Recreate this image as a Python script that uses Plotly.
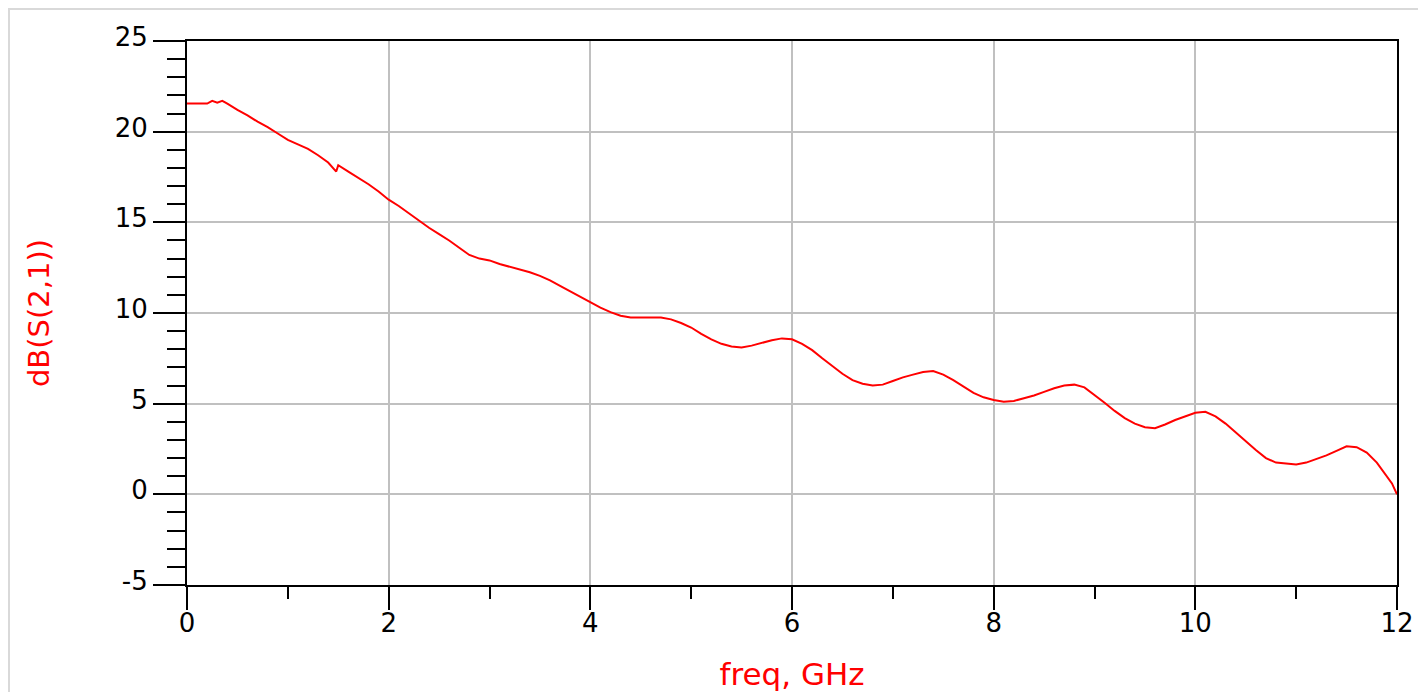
import plotly.graph_objects as go

freq_ghz = [0.0, 0.1, 0.2, 0.25, 0.3, 0.35, 0.4, 0.5, 0.6, 0.7, 0.8, 0.9,
            1.0, 1.1, 1.2, 1.3, 1.4, 1.48, 1.5, 1.6, 1.7, 1.8, 1.9,
            2.0, 2.1, 2.2, 2.3, 2.4, 2.5, 2.6, 2.7, 2.8, 2.9,
            3.0, 3.1, 3.2, 3.3, 3.4, 3.5, 3.6, 3.7, 3.8, 3.9,
            4.0, 4.1, 4.2, 4.3, 4.4, 4.5, 4.6, 4.7, 4.8, 4.9,
            5.0, 5.1, 5.2, 5.3, 5.4, 5.5, 5.6, 5.7, 5.8, 5.9,
            6.0, 6.1, 6.2, 6.3, 6.4, 6.5, 6.6, 6.7, 6.8, 6.9,
            7.0, 7.1, 7.2, 7.3, 7.4, 7.5, 7.6, 7.7, 7.8, 7.9,
            8.0, 8.1, 8.2, 8.3, 8.4, 8.5, 8.6, 8.7, 8.8, 8.9,
            9.0, 9.1, 9.2, 9.3, 9.4, 9.5, 9.6, 9.7, 9.8, 9.9,
            10.0, 10.1, 10.2, 10.3, 10.4, 10.5, 10.6, 10.7, 10.8, 10.9,
            11.0, 11.1, 11.2, 11.3, 11.4, 11.5, 11.6, 11.7, 11.8, 11.9, 11.95, 12.0]

s21_db = [21.55, 21.55, 21.55, 21.7, 21.6, 21.7, 21.55, 21.2, 20.9, 20.55, 20.25, 19.9,
          19.55, 19.3, 19.05, 18.7, 18.3, 17.8, 18.15, 17.8, 17.45, 17.1, 16.7,
          16.25, 15.9, 15.5, 15.1, 14.7, 14.35, 14.0, 13.6, 13.2, 13.0,
          12.9, 12.7, 12.55, 12.4, 12.25, 12.05, 11.8, 11.5, 11.2, 10.9,
          10.6, 10.3, 10.05, 9.85, 9.75, 9.75, 9.75, 9.75, 9.65, 9.45,
          9.2, 8.85, 8.55, 8.3, 8.15, 8.1, 8.2, 8.35, 8.5, 8.6,
          8.55, 8.3, 7.95, 7.5, 7.05, 6.65, 6.3, 6.1, 6.0, 6.05,
          6.25, 6.45, 6.6, 6.75, 6.8, 6.6, 6.3, 5.95, 5.6, 5.35,
          5.2, 5.1, 5.15, 5.3, 5.45, 5.65, 5.85, 6.0, 6.05, 5.9,
          5.5, 5.05, 4.6, 4.2, 3.9, 3.7, 3.65, 3.85, 4.1, 4.3,
          4.5, 4.55, 4.3, 3.9, 3.4, 2.9, 2.45, 2.0, 1.75, 1.7,
          1.65, 1.75, 1.95, 2.15, 2.4, 2.65, 2.6, 2.3, 1.75, 1.0, 0.6, 0.0]

x_tick_vals = [0, 2, 4, 6, 8, 10, 12]
x_tick_labels = ["0", "2", "4", "6", "8", "10", "12"]
y_tick_vals = [-5, 0, 5, 10, 15, 20, 25]
y_tick_labels = ["-5", "0", "5", "10", "15", "20", "25"]

x_title = "freq, GHz"
y_title = "dB(S(2,1))"

font_family = "DejaVu Sans"

fig = go.Figure()
fig.add_trace(go.Scatter(x=freq_ghz, y=s21_db, mode="lines",
                         line=dict(color="#ff0000", width=2),
                         showlegend=False, hoverinfo="x+y"))

fig.update_layout(
    width=1410, height=684,
    margin=dict(l=179, r=21, t=33, b=107),
    paper_bgcolor="white", plot_bgcolor="white",
    font=dict(family=font_family, color="black", size=26),
    shapes=[dict(type="rect", xref="paper", yref="paper",
                 x0=-0.1471, x1=1.2, y0=-0.4, y1=1.0588,
                 line=dict(color="#d9d9d9", width=2), layer="below")],
)

fig.update_xaxes(
    range=[0, 12], tickvals=x_tick_vals, ticktext=x_tick_labels,
    automargin=False, ticklabelstandoff=-9,
    showline=True, linecolor="black", linewidth=2, mirror=True,
    ticks="outside", ticklen=23, tickwidth=2, tickcolor="black",
    showgrid=True, gridcolor="#c0c0c0", gridwidth=2, zeroline=False,
    tickfont=dict(size=26, color="black", family=font_family),
    minor=dict(dtick=1, tick0=0, ticks="outside", ticklen=12, tickwidth=2,
               tickcolor="black", showgrid=False),
    title=dict(text=x_title, font=dict(size=31, color="#ff0000", family=font_family),
               standoff=40),
)
fig.update_yaxes(
    range=[-5, 25], tickvals=y_tick_vals, ticktext=y_tick_labels,
    automargin=False, ticklabelshift=-4,
    showline=True, linecolor="black", linewidth=2, mirror=True,
    ticks="outside", ticklen=32, tickwidth=2, tickcolor="black",
    showgrid=True, gridcolor="#c0c0c0", gridwidth=2, zeroline=False,
    tickfont=dict(size=26, color="black", family=font_family),
    minor=dict(dtick=1, tick0=0, ticks="outside", ticklen=18, tickwidth=2,
               tickcolor="black", showgrid=False),
    title=dict(text=y_title, font=dict(size=29, color="#ff0000", family=font_family),
               standoff=57),
)

fig.write_html("out.html")
